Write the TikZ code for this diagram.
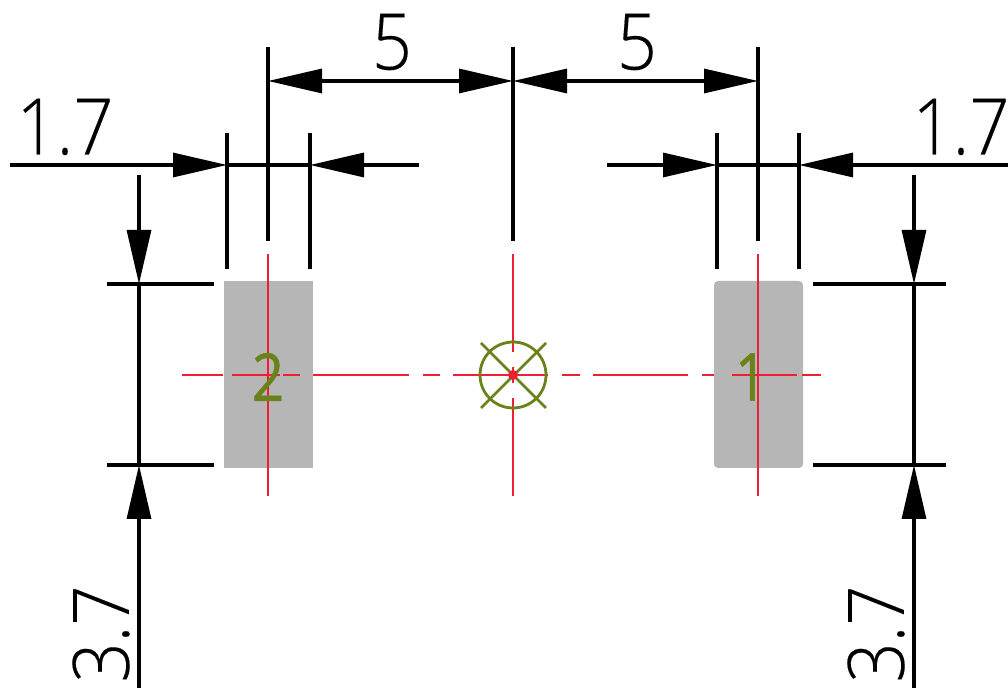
\documentclass[tikz,border=0pt]{standalone}
\usepackage{fontspec}
\setmainfont{Open Sans Light}[FakeBold=0.2,FakeStretch=0.9]
\newfontfamily\padfont{Open Sans}[FakeBold=0.8,FakeStretch=0.85]
\usetikzlibrary{arrows.meta}
\definecolor{padgray}{RGB}{182,182,182}
\definecolor{cadred}{RGB}{240,30,50}
\definecolor{cadgreen}{RGB}{105,130,25}
\tikzset{
  dimline/.style={black, line width=1.6pt},
  dimarrow/.style={dimline, -{Triangle[length=27pt, width=12pt]}},
  redline/.style={cadred, line width=1.3pt},
  greenline/.style={cadgreen, line width=1.4pt},
  dimtext/.style={inner sep=0pt, font=\fontsize{39}{39}\selectfont},
  padtext/.style={inner sep=0pt, cadgreen, font=\padfont\fontsize{33}{33}\selectfont}
}
\begin{document}
\begin{tikzpicture}[x=0.5pt, y=-0.5pt]
            \useasboundingbox (0,0) rectangle (1008,688);

            % pads
            \fill[padgray] (224,281) rectangle (313,468);
            \fill[padgray, rounded corners=2pt] (714,281) rectangle (803,468);

            % centre lines
            \foreach \cx in {268,758}
                \draw[redline] (\cx,254) -- (\cx,496);
            \draw[redline] (513,254) -- (513,352);
            \draw[redline] (513,367) -- (513,383);
            \draw[redline] (513,398) -- (513,496);
            \draw[redline] (182,375) -- (223,375);
            \draw[redline] (232,375) -- (280,375);
            \draw[redline] (283,375) -- (300,375);
            \draw[redline] (313,375) -- (409,375);
            \draw[redline] (423,375) -- (440,375);
            \draw[redline] (453,375) -- (548,375);
            \draw[redline] (562,375) -- (580,375);
            \draw[redline] (593,375) -- (688,375);
            \draw[redline] (702,375) -- (714,375);
            \draw[redline] (732,375) -- (797,375);
            \draw[redline] (802,375) -- (821,375);

            % centre mark
            \draw[greenline] (513,375) circle (16.5pt);
            \draw[greenline] (481,343) -- (546,408);
            \draw[greenline] (546,343) -- (481,408);
            \fill[cadred] (513,375) circle (2.5pt);

            % extension lines
            \foreach \ex in {268,513,758}
                \draw[dimline] (\ex,47) -- (\ex,241);
            \foreach \ex in {227,310,717,799}
                \draw[dimline] (\ex,133) -- (\ex,269);
            \draw[dimline] (107,284) -- (214,284);
            \draw[dimline] (107,465) -- (214,465);
            \draw[dimline] (813,284) -- (946,284);
            \draw[dimline] (813,465) -- (946,465);

            % top dimensions
            \draw[dimarrow] (390,81) -- (268,81);
            \draw[dimarrow] (390,81) -- (513,81);
            \draw[dimarrow] (635,81) -- (513,81);
            \draw[dimarrow] (635,81) -- (758,81);

            % width dimensions
            \draw[dimarrow] (10,165) -- (227,165);
            \draw[dimarrow] (419,165) -- (310,165);
            \draw[dimline] (227,165) -- (310,165);
            \draw[dimarrow] (607,165) -- (717,165);
            \draw[dimarrow] (1008,165) -- (799,165);
            \draw[dimline] (717,165) -- (799,165);

            % height dimensions
            \foreach \dx in {139,914} {
                \draw[dimarrow] (\dx,175) -- (\dx,284);
                \draw[dimarrow] (\dx,688) -- (\dx,465);
                \draw[dimline] (\dx,284) -- (\dx,465);
            }

            % labels
            \node[dimtext] (dimTopLeft) at (392,42) {5};
            \node[dimtext] (dimTopRight) at (637,42) {5};
            \node[dimtext] (dimPadLeft) at (65,127) {1.7};
            \node[dimtext] (dimPadRight) at (961,127) {1.7};
            \node[dimtext, rotate=90] (dimHeightLeft) at (101,634) {3.7};
            \node[dimtext, rotate=90] (dimHeightRight) at (876,634) {3.7};
            \node[padtext] (padTwo) at (268,377) {2};
            \node[padtext] (padOne) at (751,377) {1};
        \end{tikzpicture}
\end{document}
